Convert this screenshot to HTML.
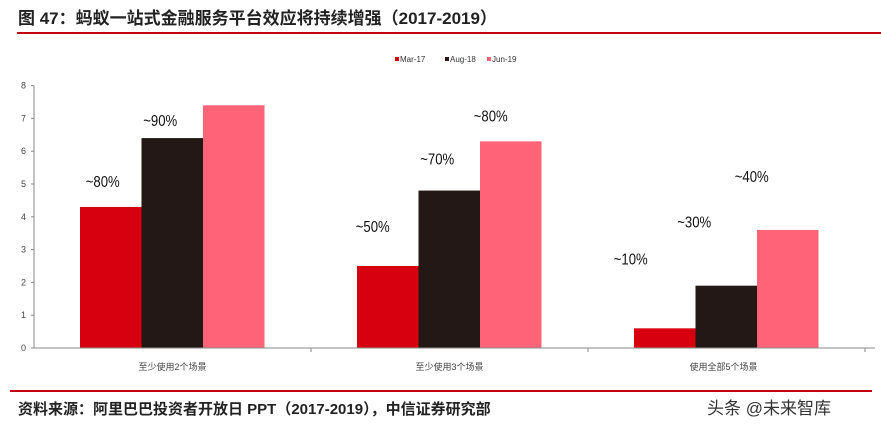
<!DOCTYPE html>
<html><head><meta charset="utf-8"><style>
body{margin:0;width:881px;height:433px;background:#fff;overflow:hidden;font-family:"Liberation Sans","Noto Sans CJK SC",sans-serif;}
svg text{font-family:"Liberation Sans","Noto Sans CJK SC",sans-serif;}
</style></head><body>
<svg id="chart" width="881" height="433" xmlns="http://www.w3.org/2000/svg">
<text x="18" y="24" font-size="17" font-weight="bold" fill="#222">图 47：蚂蚁一站式金融服务平台效应将持续增强（2017-2019）</text>
<line x1="17" y1="33" x2="881" y2="33" stroke="#c00010" stroke-width="2"/>
<line x1="10" y1="391" x2="872" y2="391" stroke="#c00010" stroke-width="2"/>
<text x="18" y="414" font-size="15" font-weight="bold" fill="#222">资料来源：阿里巴巴投资者开放日 PPT（2017-2019），中信证券研究部</text>
<text x="707" y="414" font-size="17" fill="#333">头条 @未来智库</text>
<g id="plot"></g>
</svg>
<script>
const categories=["至少使用2个场景","至少使用3个场景","使用全部5个场景"];
const seriesNames=["Mar-17","Aug-18","Jun-19"];
const mar17=[4.3,2.5,0.6];
const aug18=[6.4,4.8,1.9];
const jun19=[7.4,6.3,3.6];
const yTicks=[0,1,2,3,4,5,6,7,8];
const annotationText=["~80%","~90%","~50%","~70%","~80%","~10%","~30%","~40%"];
const annotationCat=[0,0,1,1,1,2,2,2];
const annotationSeries=[0,1,0,1,2,0,1,2];

const colors=["#d7000f","#231815","#ff6378"];
const series=[mar17,aug18,jun19];
const x0=34,x1=875,y0=348,yTop=85.6,yMax=8;
const groupW=277;
const barW=61.5,groupPad=46;
const y=v=>y0-(v/yMax)*(y0-yTop);
const xBar=(c,s)=>x0+c*groupW+groupPad+s*barW;
const NS="http://www.w3.org/2000/svg";
const g=document.getElementById('plot');
function mk(t,a){const e=document.createElementNS(NS,t);for(const k in a)e.setAttribute(k,a[k]);g.appendChild(e);return e;}
let ax=mk('line',{x1:x0,y1:yTop,x2:x0,y2:y0,stroke:'#888','stroke-width':1});


yTicks.forEach(t=>{
 let tk=mk('line',{x1:x0-3,y1:y(t),x2:x0,y2:y(t),stroke:'#888'});
 
 
 let tx=mk('text',{x:x0-8,y:y(t)+3,'font-size':9,fill:'#444','text-anchor':'end'});
 tx.textContent=t;
 
 
});
series.forEach((vals,s)=>vals.forEach((v,c)=>{
 let r=mk('rect',{x:xBar(c,s),y:y(v),width:barW,height:y0-y(v),fill:colors[s]});
 
 
}));
let xa=mk('line',{x1:x0,y1:y0,x2:x1,y2:y0,stroke:'#888'});


categories.forEach((c,i)=>{
 let tk=mk('line',{x1:x0+(i+1)*groupW,y1:y0,x2:x0+(i+1)*groupW,y2:y0+4,stroke:'#888'});
 
 
 let tx=mk('text',{x:x0+(i+0.5)*groupW+(i===2?-3:0),y:370,'font-size':9,fill:'#444','text-anchor':'middle'});
 tx.textContent=c;
 
 
});
const dx=[-8,-12,-15,-12,-20,-34,-32,-36];
const dy=[-20,-12,-34,-26,-20,-64,-58,-48];
annotationText.forEach((t,i)=>{
 const c=annotationCat[i],s=annotationSeries[i];
 const v=series[s][c];
 let tx=mk('text',{x:xBar(c,s)+barW/2+dx[i],y:y(v)+dy[i],'font-size':16,fill:'#111','text-anchor':'middle',textLength:34,lengthAdjust:'spacingAndGlyphs'});
 tx.textContent=t;
 
 
});
const lx=[395,445,487];
seriesNames.forEach((n,i)=>{
 let r=mk('rect',{x:lx[i],y:57,width:4,height:4,fill:colors[i]});
 
 
 let tx=mk('text',{x:lx[i]+5,y:62,'font-size':8,fill:'#333'});
 tx.textContent=n;
 
 
});
</script>
</body></html>
